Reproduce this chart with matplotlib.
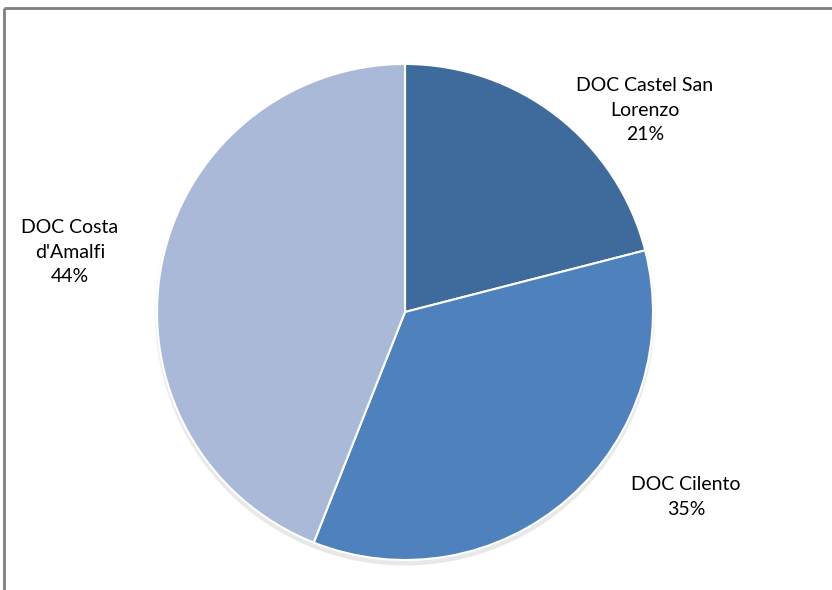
import matplotlib.pyplot as plt
from matplotlib.patches import Ellipse

# DOC wine production share
names = ["DOC Castel San\nLorenzo", "DOC Cilento", "DOC Costa\nd'Amalfi"]
shares = [21, 35, 44]
colors = ["#3F6A9C", "#4F81BD", "#AAB9D7"]
label_pos = [(645, 110), (686, 497), (70, 252)]

plt.rcParams['font.family'] = ['Lato', 'DejaVu Sans']

fig = plt.figure(figsize=(8.32, 5.90), dpi=100)
ax = fig.add_axes([0, 0, 1, 1])

cx, cy, r = 405, 312, 248

# soft drop shadow under the pie
for i, a in enumerate([0.025, 0.03, 0.035]):
    ax.add_patch(Ellipse((cx, cy + 3 + i), 2 * r + 5 - 2 * i, 2 * r + 5 - 2 * i,
                         color="#000000", alpha=a, lw=0, zorder=1))

# y axis is flipped, so counterclock=True runs clockwise on screen
ax.pie(shares, colors=colors, startangle=-90, counterclock=True,
       center=(cx, cy), radius=r, frame=True,
       wedgeprops=dict(edgecolor="white", linewidth=1.5, zorder=2))
ax.set_xlim(0, 832)
ax.set_ylim(590, 0)
ax.set_aspect('equal')
ax.axis('off')

for name, share, (x, y) in zip(names, shares, label_pos):
    ax.text(x, y, f"{name}\n{share}%", ha="center", va="center",
            fontsize=14, linespacing=1.55, color="black", zorder=5)

# chart area border (top and left edges visible)
ax.plot([4, 4], [590, 8], color="#808080", lw=2, solid_capstyle="butt", zorder=6)
ax.plot([4, 832], [8, 8], color="#808080", lw=2, solid_capstyle="butt", zorder=6)

fig.savefig("out.png", dpi=100)
